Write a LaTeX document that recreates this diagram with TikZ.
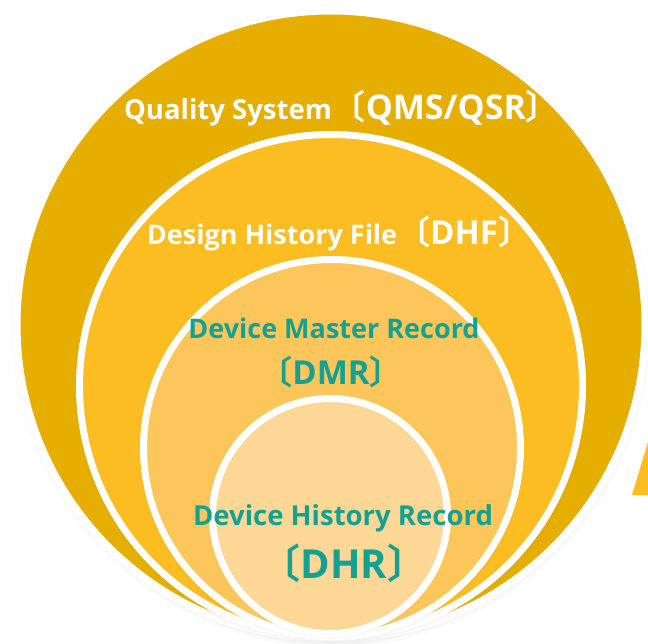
\documentclass[tikz,border=0pt]{standalone}
\usepackage{fontspec}
\setmainfont{Open Sans}[BoldFont={* Bold}]
\newfontfamily\cjk{Noto Sans CJK SC}[BoldFont={* Bold}]
\usetikzlibrary{shadows}
\definecolor{goldA}{HTML}{E6AE00}
\definecolor{goldB}{HTML}{FCBD22}
\definecolor{goldC}{HTML}{FDC65B}
\definecolor{goldD}{HTML}{FDD795}
\definecolor{tealT}{HTML}{14A191}
\newcommand{\lb}{{\cjk\bfseries 〔}}
\newcommand{\rb}{{\cjk\bfseries 〕}}
\begin{document}
\begin{tikzpicture}[x=1pt,y=-1pt,
  ring/.style={circle,draw=white,line width=7pt,inner sep=0pt,
    circular drop shadow={shadow xshift=0pt,shadow yshift=-3pt,shadow scale=1.02,opacity=.45}},
  wlab/.style={anchor=base,text=white,font=\bfseries,inner sep=0pt},
  tlab/.style={anchor=base,text=tealT,font=\bfseries,inner sep=0pt}]
\useasboundingbox (0,0) rectangle (648,643);
\fill[goldB] (632,495) -- (648,442) -- (648,495) -- cycle;
\node[ring,fill=goldA,minimum size=628pt] (qs) at (331,325) {};
\node[ring,fill=goldB,minimum size=503pt] (dhf) at (331,386) {};
\node[ring,fill=goldC,minimum size=377pt] (dmr) at (332,448) {};
\node[ring,fill=goldD,minimum size=235pt] (dhr) at (330,516) {};
\node[wlab] (t1) at (342,119) {\fontsize{27.5}{30}\selectfont Quality System\fontsize{34}{36}\selectfont\lb QMS/QSR\rb};
\node[wlab] (t2) at (339,244) {\fontsize{27}{30}\selectfont Design History File\fontsize{33}{36}\selectfont\lb DHF\rb};
\node[tlab] (t3) at (334,338) {\fontsize{27}{30}\selectfont Device Master Record};
\node[tlab] (t4) at (331,384) {\fontsize{33}{36}\selectfont\lb DMR\rb};
\node[tlab] (t5) at (343,525) {\fontsize{27.5}{30}\selectfont Device History Record};
\node[tlab] (t6) at (344,578) {\fontsize{40}{42}\selectfont\lb DHR\rb};
\end{tikzpicture}
\end{document}
